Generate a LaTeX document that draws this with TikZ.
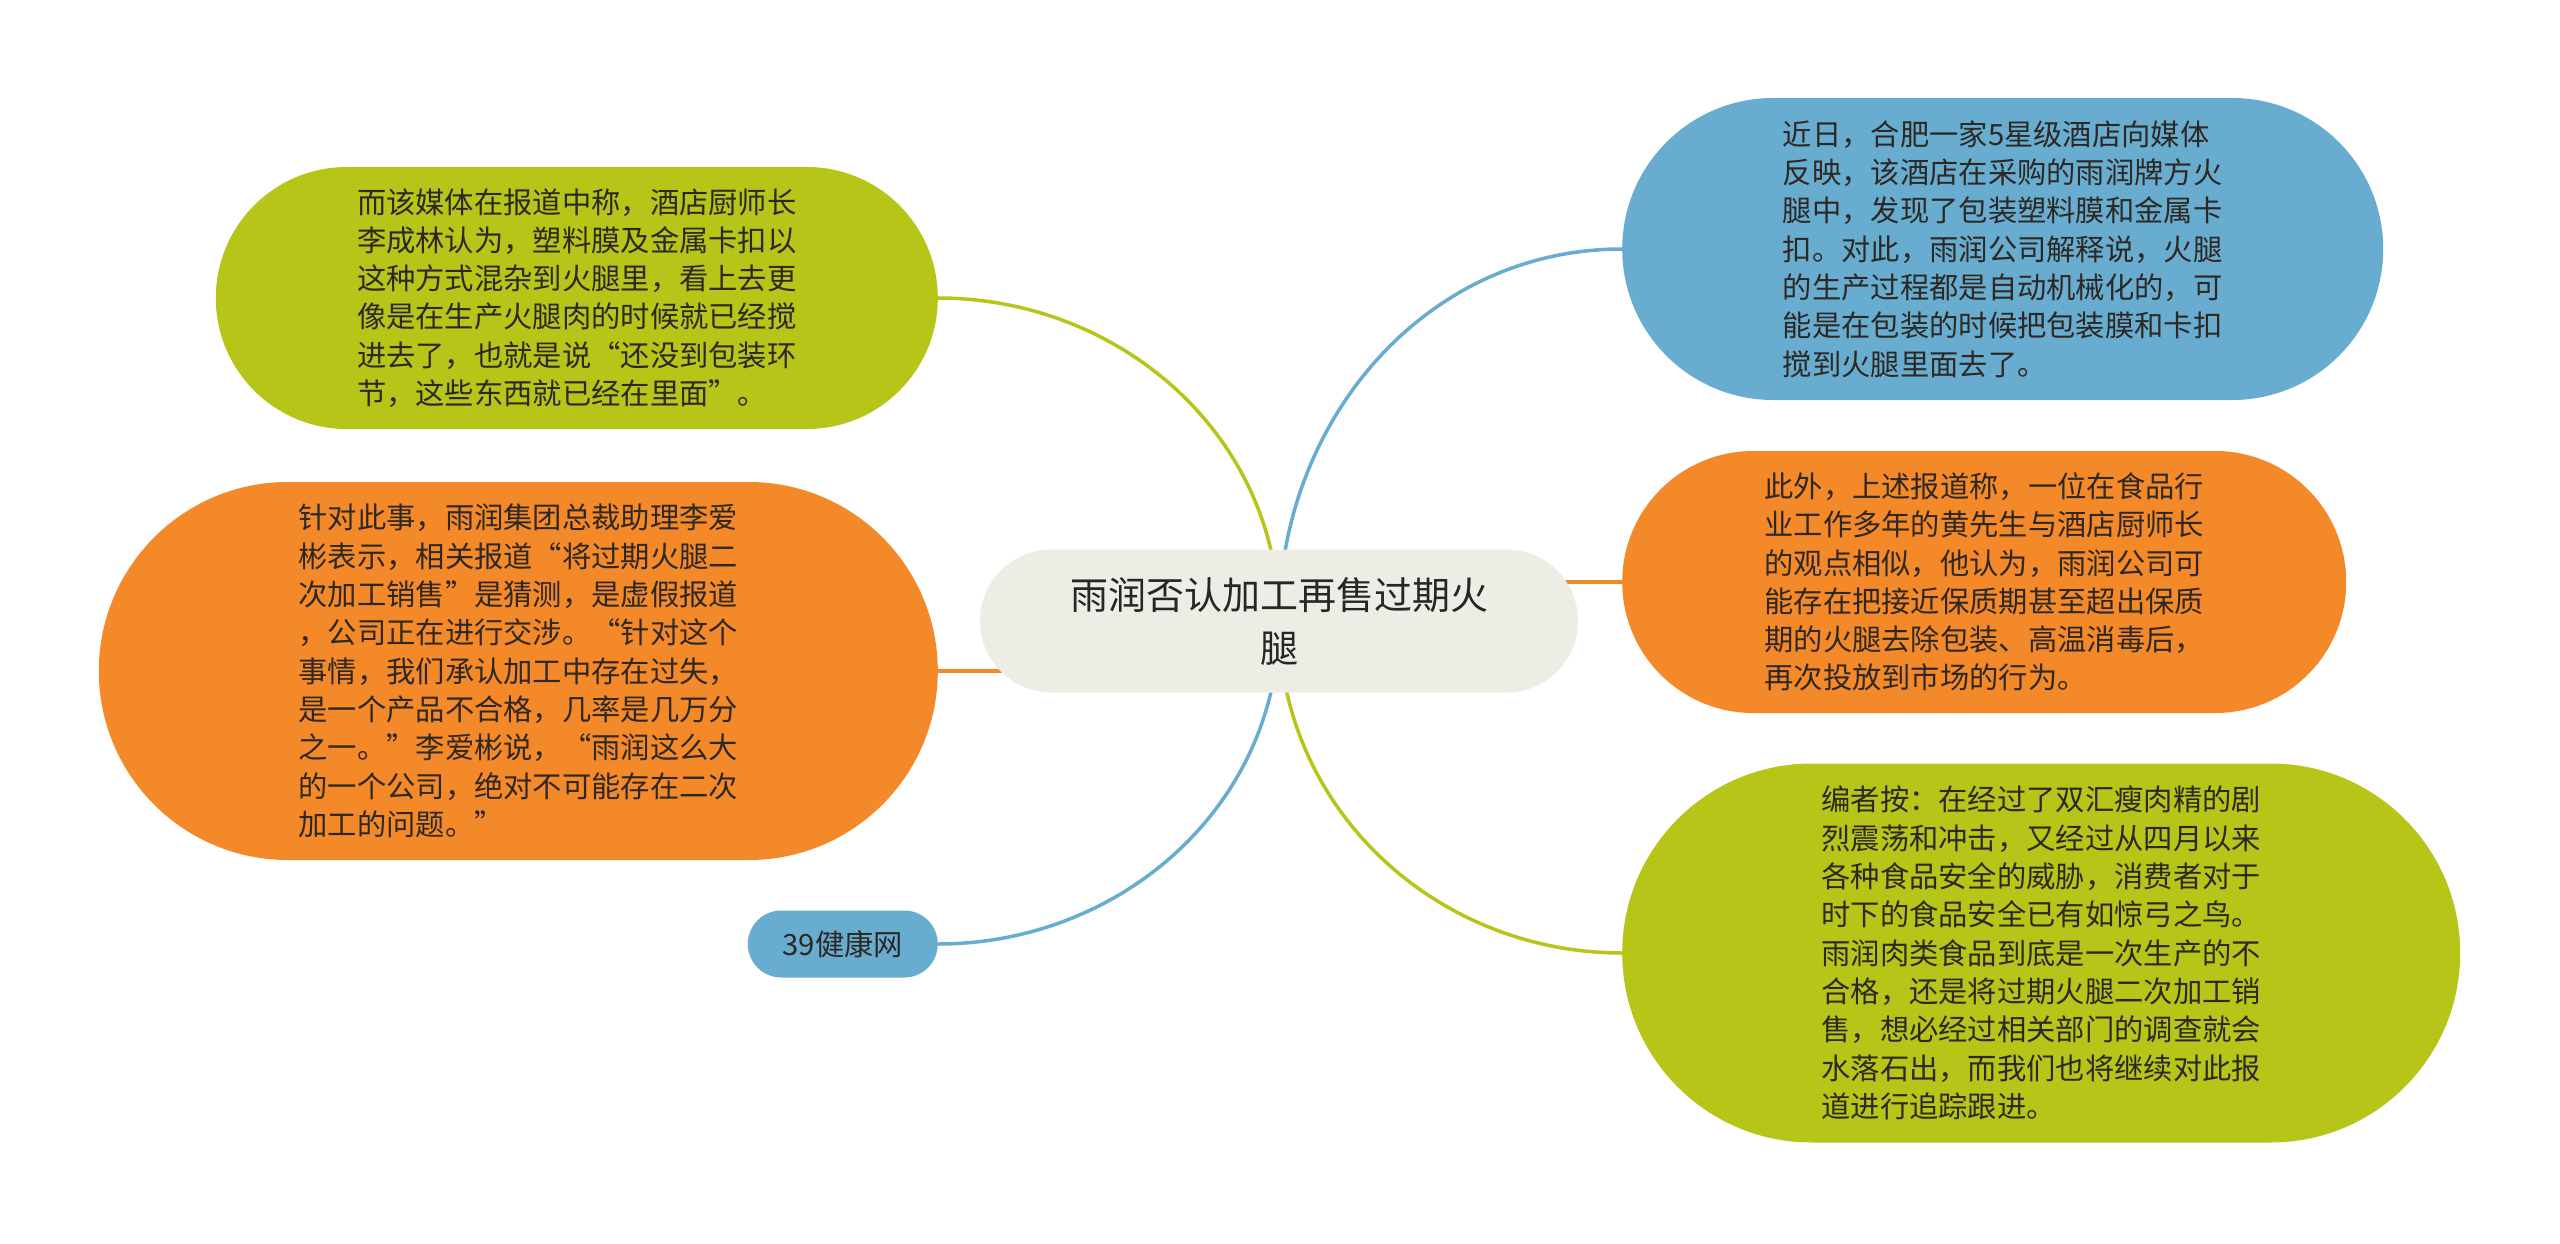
\documentclass[tikz,border=0pt]{standalone}
\usepackage{fontspec}
\setmainfont{Noto Sans CJK SC}
\usetikzlibrary{backgrounds}
\definecolor{ygreen}{RGB}{183,196,24}
\definecolor{lorange}{RGB}{244,137,42}
\definecolor{lblue}{RGB}{104,172,207}
\definecolor{cgray}{RGB}{238,237,229}
\definecolor{tdark}{RGB}{45,40,35}
\begin{document}
\begin{tikzpicture}[x=1pt,y=1pt,
    bubble/.style 2 args={rectangle, minimum width=#1, minimum height=#2, rounded corners=#2/2,
        inner sep=0pt, align=left, text=tdark, font=\fontsize{29.3}{38.3}\selectfont},
    link/.style={line width=3.5pt}]
    \useasboundingbox (0,0) rectangle (2560,-1244);
        \node[bubble={598pt}{143pt}, fill=cgray, align=center, text=black!85,
            font=\fontsize{38}{53}\selectfont] (cn) at (1279,-621) {雨润否认加工再售过期火\\腿};
        \node[bubble={722pt}{262pt}, fill=ygreen, anchor=east] (tl) at (938,-298)
            {而该媒体在报道中称，酒店厨师长\\李成林认为，塑料膜及金属卡扣以\\这种方式混杂到火腿里，看上去更\\像是在生产火腿肉的时候就已经搅\\进去了，也就是说“还没到包装环\\节，这些东西就已经在里面”。};
        \node[bubble={839pt}{378pt}, fill=lorange, anchor=east] (lo) at (938,-671)
            {针对此事，雨润集团总裁助理李爱\\彬表示，相关报道“将过期火腿二\\次加工销售”是猜测，是虚假报道\\，公司正在进行交涉。“针对这个\\事情，我们承认加工中存在过失，\\是一个产品不合格，几率是几万分\\之一。”李爱彬说，“雨润这么大\\的一个公司，绝对不可能存在二次\\加工的问题。”};
        \node[bubble={190pt}{67pt}, fill=lblue, anchor=east, align=center] (hw) at (938,-944) {39健康网};
        \node[bubble={761pt}{302pt}, fill=lblue, anchor=west] (r1) at (1622,-249)
            {近日，合肥一家5星级酒店向媒体\\反映，该酒店在采购的雨润牌方火\\腿中，发现了包装塑料膜和金属卡\\扣。对此，雨润公司解释说，火腿\\的生产过程都是自动机械化的，可\\能是在包装的时候把包装膜和卡扣\\搅到火腿里面去了。};
        \node[bubble={724pt}{262pt}, fill=lorange, anchor=west] (r2) at (1622,-582)
            {此外，上述报道称，一位在食品行\\业工作多年的黄先生与酒店厨师长\\的观点相似，他认为，雨润公司可\\能存在把接近保质期甚至超出保质\\期的火腿去除包装、高温消毒后，\\再次投放到市场的行为。};
        \node[bubble={838pt}{379pt}, fill=ygreen, anchor=west] (r3) at (1622,-953)
            {编者按：在经过了双汇瘦肉精的剧\\烈震荡和冲击，又经过从四月以来\\各种食品安全的威胁，消费者对于\\时下的食品安全已有如惊弓之鸟。\\雨润肉类食品到底是一次生产的不\\合格，还是将过期火腿二次加工销\\售，想必经过相关部门的调查就会\\水落石出，而我们也将继续对此报\\道进行追踪跟进。};
        \begin{pgfonlayer}{background}
            \fill[white] (0,0) rectangle (2560,-1244);
            \draw[link,ygreen] (cn.center) to[out=90,in=0] (tl.east);
            \draw[link,lblue] (cn.center) to[out=90,in=180] (r1.west);
            \draw[link,lorange] (lo.east) -- (lo.east -| cn.center);
            \draw[link,lorange] (r2.west) -- (r2.west -| cn.center);
            \draw[link,lblue] (cn.center) to[out=-90,in=0] (hw.east);
            \draw[link,ygreen] (cn.center) to[out=-90,in=180] (r3.west);
        \end{pgfonlayer}
    \end{tikzpicture}
\end{document}
